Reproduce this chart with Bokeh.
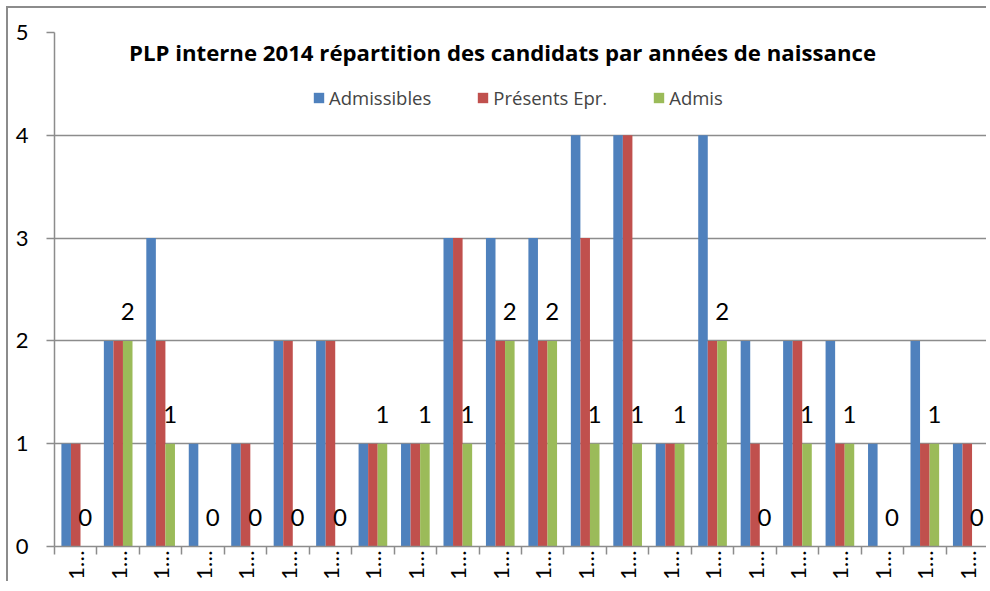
import math
import numpy as np
from bokeh.plotting import figure
from bokeh.models import Range1d, FixedTicker, Legend, LegendItem
from bokeh.embed import file_html
from bokeh.resources import INLINE
from bokeh.core.properties import value

# ---- data ----
categories = ["1…"] * 22
admissibles = [1, 2, 3, 1, 1, 2, 2, 1, 1, 3, 3, 3, 4, 4, 1, 4, 2, 2, 2, 1, 2, 1]
presents = [1, 2, 2, 0, 1, 2, 2, 1, 1, 3, 2, 2, 3, 4, 1, 2, 1, 2, 1, 0, 1, 1]
admis = [0, 2, 1, 0, 0, 0, 0, 1, 1, 1, 2, 2, 1, 1, 1, 2, 0, 1, 1, 0, 1, 0]
series_names = ["Admissibles", "Présents Epr.", "Admis"]
colors = ["#4F81BD", "#C0504D", "#9BBB59"]
y_ticks = [0, 1, 2, 3, 4, 5]
title_text = "PLP interne 2014 répartition des candidats par années de naissance"

FONT = "Lato"
TFONT = "Open Sans"
GRAY = "#8c8c8c"

n = len(categories)
xc = np.arange(1, n + 1)

p = figure(width=980, height=575,
           x_range=Range1d(0.5, n + 0.5), y_range=Range1d(0, 5),
           output_backend="svg", toolbar_location=None,
           min_border_left=46, min_border_right=0, min_border_top=24, min_border_bottom=37)
p.styles = {"margin": "6px 0px 0px 6px",
            "border-top": "2px solid #8c8c8c", "border-left": "2px solid #8c8c8c"}
p.outline_line_color = None
p.background_fill_color = "white"
p.border_fill_color = "white"

bw = 0.225
renderers = []
for i, (vals, c) in enumerate(zip([admissibles, presents, admis], colors)):
    r = p.vbar(x=xc + (i - 1) * bw, top=vals, width=bw, bottom=0,
               fill_color=c, line_color=None)
    renderers.append(r)

# data labels on "Admis"
p.text(x=xc + bw, y=admis, text=[str(v) for v in admis],
       text_align="center", text_baseline="alphabetic", y_offset=-29,
       text_font=value(FONT), text_font_size="24px", text_color="black")

# title inside the plot area
p.text(x=[(n + 1) / 2], y=[5], text=[title_text], x_offset=-19, y_offset=20,
       text_align="center", text_baseline="alphabetic",
       text_font=value(TFONT), text_font_style="bold", text_font_size="22.2px",
       text_color="black")

legend = Legend(items=[LegendItem(label=nm, renderers=[r]) for nm, r in zip(series_names, renderers)],
                location=(258, 436), orientation="horizontal",
                glyph_width=13, glyph_height=13, label_standoff=4, spacing=45,
                padding=0, margin=0, border_line_color=None, background_fill_alpha=0,
                label_text_font=TFONT, label_text_font_size="18.5px", label_height=14)
p.add_layout(legend, "center")

# axes
p.xgrid.visible = False
p.ygrid.ticker = FixedTicker(ticks=y_ticks)
p.ygrid.grid_line_color = GRAY
p.ygrid.grid_line_width = 1.5

xa = p.xaxis[0]
xa.ticker = FixedTicker(ticks=list(xc), minor_ticks=list(np.arange(0.5, n + 1, 1.0)))
xa.major_label_overrides = {int(k): lab for k, lab in zip(xc, categories)}
xa.major_label_orientation = math.pi / 2
xa.major_tick_out = 0
xa.major_tick_in = 0
xa.minor_tick_out = 8
xa.minor_tick_in = 0
xa.minor_tick_line_color = GRAY
xa.minor_tick_line_width = 1.5
xa.axis_line_color = GRAY
xa.axis_line_width = 1.5
xa.major_label_standoff = -4
xa.major_label_text_font = FONT
xa.major_label_text_font_size = "22px"
xa.major_label_text_color = "black"

ya = p.yaxis[0]
ya.ticker = FixedTicker(ticks=y_ticks)
ya.major_tick_out = 8
ya.major_tick_in = 0
ya.minor_tick_out = 0
ya.minor_tick_in = 0
ya.major_tick_line_color = GRAY
ya.major_tick_line_width = 1.5
ya.axis_line_color = GRAY
ya.axis_line_width = 1.5
ya.major_label_standoff = 18
ya.major_label_text_font = FONT
ya.major_label_text_font_size = "22px"
ya.major_label_text_color = "black"

open("out.html", "w").write(file_html(p, INLINE))
